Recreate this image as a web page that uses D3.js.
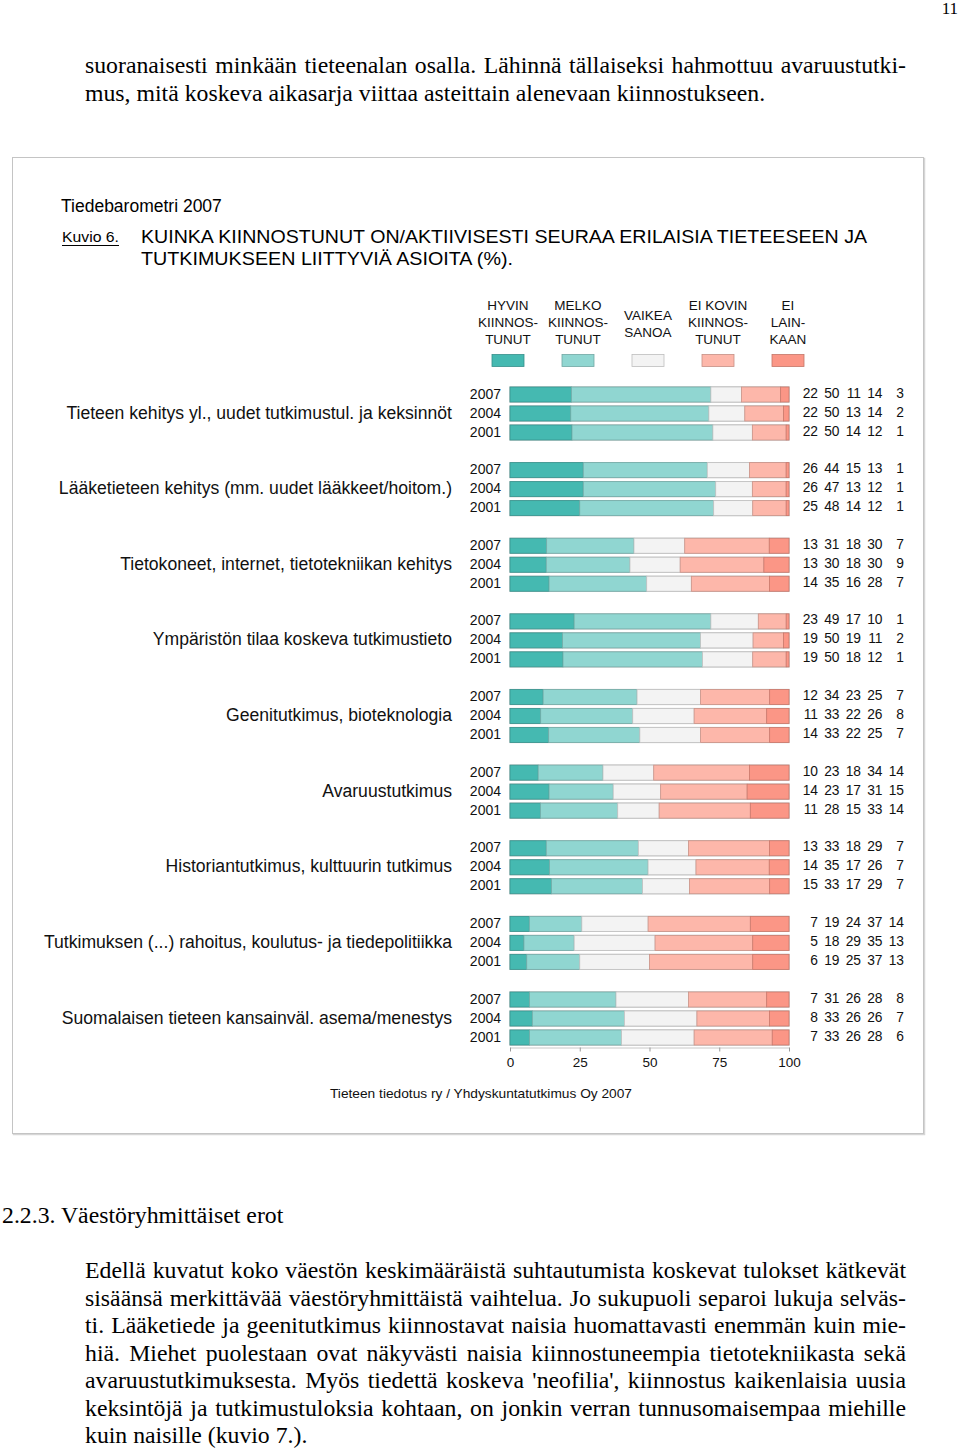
<!DOCTYPE html>
<html><head><meta charset="utf-8">
<script src="https://cdn.jsdelivr.net/npm/d3@7"></script>
<style>
html,body{margin:0;padding:0;background:#fff;}
svg{display:block;}
</style></head>
<body>
<svg id="c" width="960" height="1451"></svg>
<script>
// ---------- DATA ----------
const categories = [
  "Tieteen kehitys yl., uudet tutkimustul. ja keksinnöt",
  "Lääketieteen kehitys (mm. uudet lääkkeet/hoitom.)",
  "Tietokoneet, internet, tietotekniikan kehitys",
  "Ympäristön tilaa koskeva tutkimustieto",
  "Geenitutkimus, bioteknologia",
  "Avaruustutkimus",
  "Historiantutkimus, kulttuurin tutkimus",
  "Tutkimuksen (...) rahoitus, koulutus- ja tiedepolitiikka",
  "Suomalaisen tieteen kansainväl. asema/menestys"
];
const years = ["2007", "2004", "2001"];
const seriesNames = [["HYVIN","KIINNOS-","TUNUT"],["MELKO","KIINNOS-","TUNUT"],["VAIKEA","SANOA"],["EI KOVIN","KIINNOS-","TUNUT"],["EI","LAIN-","KAAN"]];
// values per series, in order category x year (2007, 2004, 2001)
const hyvin      = [22,22,22, 26,26,25, 13,13,14, 23,19,19, 12,11,14, 10,14,11, 13,14,15, 7,5,6, 7,8,7];
const melko      = [50,50,50, 44,47,48, 31,30,35, 49,50,50, 34,33,33, 23,23,28, 33,35,33, 19,18,19, 31,33,33];
const vaikea     = [11,13,14, 15,13,14, 18,18,16, 17,19,18, 23,22,22, 18,17,15, 18,17,17, 24,29,25, 26,26,26];
const eiKovin    = [14,14,12, 13,12,12, 30,30,28, 10,11,12, 25,26,25, 34,31,33, 29,26,29, 37,35,37, 28,26,28];
const eiLainkaan = [3,2,1, 1,1,1, 7,9,7, 1,2,1, 7,8,7, 14,15,14, 7,7,7, 14,13,13, 8,7,6];
const seriesValues = [hyvin, melko, vaikea, eiKovin, eiLainkaan];
const axisTicks = [0, 25, 50, 75, 100];

const topLines = [
  "suoranaisesti minkään tieteenalan osalla. Lähinnä tällaiseksi hahmottuu avaruustutki-",
  "mus, mitä koskeva aikasarja viittaa asteittain alenevaan kiinnostukseen."
];
const heading = "2.2.3. Väestöryhmittäiset erot";
const bottomLines = [
  "Edellä kuvatut koko väestön keskimääräistä suhtautumista koskevat tulokset kätkevät",
  "sisäänsä merkittävää väestöryhmittäistä vaihtelua. Jo sukupuoli separoi lukuja selväs-",
  "ti. Lääketiede ja geenitutkimus kiinnostavat naisia huomattavasti enemmän kuin mie-",
  "hiä. Miehet puolestaan ovat näkyvästi naisia kiinnostuneempia tietotekniikasta sekä",
  "avaruustutkimuksesta. Myös tiedettä koskeva 'neofilia', kiinnostus kaikenlaisia uusia",
  "keksintöjä ja tutkimustuloksia kohtaan, on jonkin verran tunnusomaisempaa miehille",
  "kuin naisille (kuvio 7.)."
];

// ---------- STYLE ----------
const colors = ["#45b9b1", "#90d6d1", "#f3f3f3", "#fdb7aa", "#fb9686"];
const SANS = "'Liberation Sans', Arial, sans-serif";
const SERIF = "'Liberation Serif', 'Times New Roman', serif";

const svg = d3.select("#c");

// ---------- Page text (serif) ----------
svg.append("text").attr("x", 958).attr("y", 14).attr("text-anchor", "end")
  .attr("font-family", SERIF).attr("font-size", 17).text("11");

const SX = 0.99; // horizontal scale of the serif body font
function placeLines(lines, x, y0, pitch, width, lastNatural) {
  lines.forEach((txt, i) => {
    const g = svg.append("g").attr("transform", `translate(${x},${y0 + i * pitch}) scale(${SX},1)`);
    const t = g.append("text").attr("x", 0).attr("y", 0)
      .attr("font-family", SERIF).attr("font-size", 24).attr("fill", "#000").text(txt);
    const isLast = i === lines.length - 1 && lastNatural;
    if (!isLast) {
      const nat = t.node().getComputedTextLength();
      const words = txt.split(" ").length - 1;
      const ws = (width / SX - nat) / Math.max(words, 1);
      t.attr("word-spacing", ws);
    }
  });
}
placeLines(topLines, 85, 73, 28, 821, true);
{
  const g = svg.append("g").attr("transform", `translate(2,1223) scale(${SX},1)`);
  g.append("text").attr("font-family", SERIF).attr("font-size", 24).text(heading);
}
placeLines(bottomLines, 85, 1278, 27.5, 821, true);

// ---------- Chart box ----------
svg.append("rect").attr("x", 13.5).attr("y", 158.5).attr("width", 911).attr("height", 976)
  .attr("fill", "none").attr("stroke", "#d6d6d6").attr("stroke-width", 1.5);
svg.append("rect").attr("x", 12.5).attr("y", 157.5).attr("width", 911).attr("height", 976)
  .attr("fill", "#fff").attr("stroke", "#c4c4c4");

svg.append("text").attr("x", 61).attr("y", 212).attr("font-family", SANS).attr("font-size", 17.5)
  .text("Tiedebarometri 2007");
svg.append("text").attr("x", 62).attr("y", 242).attr("font-family", SANS).attr("font-size", 15)
  .attr("textLength", 57).attr("lengthAdjust", "spacingAndGlyphs").text("Kuvio 6.");
svg.append("line").attr("x1", 62).attr("x2", 119).attr("y1", 245.5).attr("y2", 245.5)
  .attr("stroke", "#000").attr("stroke-width", 1);
svg.append("text").attr("x", 141).attr("y", 243).attr("font-family", SANS).attr("font-size", 18.5)
  .attr("textLength", 726).attr("lengthAdjust", "spacingAndGlyphs")
  .text("KUINKA KIINNOSTUNUT ON/AKTIIVISESTI SEURAA ERILAISIA TIETEESEEN JA");
svg.append("text").attr("x", 141).attr("y", 265).attr("font-family", SANS).attr("font-size", 18.5)
  .attr("textLength", 372).attr("lengthAdjust", "spacingAndGlyphs")
  .text("TUTKIMUKSEEN LIITTYVIÄ ASIOITA (%).");

// ---------- Scales ----------
const x = d3.scaleLinear().domain([0, 100]).range([510, 789]);
const yCat = d3.scalePoint().domain(categories).range([413.5, 1018.5]);
const yYear = d3.scalePoint().domain(years).range([-19, 19]);
const legendX = d3.scalePoint().domain(d3.range(5)).range([508, 788]);
const numX = d3.scalePoint().domain(d3.range(5)).range([818, 904]);
const barH = 15;

// ---------- Legend ----------
seriesNames.forEach((lines, s) => {
  const cx = legendX(s);
  const n = lines.length;
  const startY = n === 3 ? 310 : 320;
  lines.forEach((l, i) => {
    svg.append("text").attr("x", cx).attr("y", startY + i * 17).attr("text-anchor", "middle")
      .attr("font-family", SANS).attr("font-size", 13.5).attr("fill", "#111").text(l);
  });
  svg.append("rect").attr("x", cx - 16).attr("y", 354.5).attr("width", 32).attr("height", 12)
    .attr("fill", colors[s]).attr("stroke", d3.color(colors[s]).darker(0.7)).attr("stroke-width", 0.8);
});

// ---------- Rows ----------
const rows = [];
categories.forEach((c, ci) => years.forEach((yr, yi) => {
  const idx = ci * 3 + yi;
  const vals = seriesValues.map(arr => arr[idx]);
  rows.push({cat: c, year: yr, vals});
}));

const rowG = svg.append("g").selectAll("g").data(rows).join("g")
  .attr("transform", d => `translate(0,${yCat(d.cat) + yYear(d.year)})`);

rowG.each(function(d) {
  const g = d3.select(this);
  const total = d3.sum(d.vals);
  let cum = 0;
  const segs = d.vals.map((v, s) => {
    const a = cum; cum += v;
    return {s, a: a / total * 100, b: cum / total * 100};
  });
  g.append("rect").attr("x", x(0)).attr("y", -barH / 2).attr("width", x(100) - x(0)).attr("height", barH)
    .attr("fill", "none").attr("stroke", "#b5b5b5").attr("stroke-width", 1.2);
  g.selectAll("rect.seg").data(segs).join("rect").attr("class", "seg")
    .attr("x", e => x(e.a)).attr("y", -barH / 2)
    .attr("width", e => x(e.b) - x(e.a)).attr("height", barH)
    .attr("fill", e => colors[e.s])
    .attr("stroke", e => d3.color(colors[e.s]).darker(0.6)).attr("stroke-width", 0.8);
  g.append("text").attr("x", 501).attr("y", 4).attr("text-anchor", "end")
    .attr("font-family", SANS).attr("font-size", 14).attr("fill", "#111").text(d.year);
  d.vals.forEach((v, s) => {
    g.append("text").attr("x", numX(s)).attr("y", 3).attr("text-anchor", "end")
      .attr("font-family", SANS).attr("font-size", 13.8).attr("fill", "#111").text(v);
  });
});

// Category labels
svg.append("g").selectAll("text").data(categories).join("text")
  .attr("x", 452).attr("y", d => yCat(d) + 5).attr("text-anchor", "end")
  .attr("font-family", SANS).attr("font-size", 17.6).attr("fill", "#111").text(d => d);

// ---------- Axis ----------
const ax = svg.append("g").attr("transform", "translate(0,1047.5)")
  .call(d3.axisBottom(x).tickValues(axisTicks).tickSize(4).tickPadding(6).tickSizeOuter(0));
ax.select(".domain").attr("stroke", "#c8c8c8");
ax.selectAll(".tick line").attr("stroke", "#999");
ax.selectAll(".tick text").attr("font-family", SANS).attr("font-size", 13.5).attr("fill", "#111");

svg.append("text").attr("x", 481).attr("y", 1098).attr("text-anchor", "middle")
  .attr("font-family", SANS).attr("font-size", 13).attr("fill", "#111")
  .attr("textLength", 302).attr("lengthAdjust", "spacingAndGlyphs")
  .text("Tieteen tiedotus ry / Yhdyskuntatutkimus Oy 2007");
</script>
</body></html>
